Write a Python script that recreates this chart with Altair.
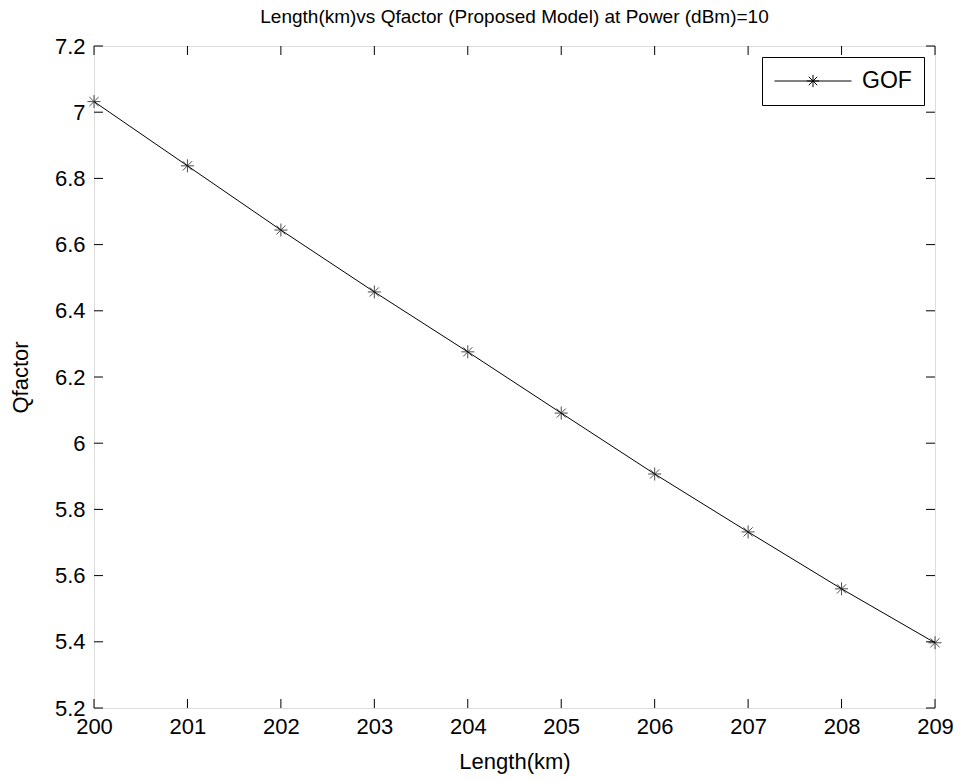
import altair as alt
import pandas as pd

length_km = [200, 201, 202, 203, 204, 205, 206, 207, 208, 209]
qfactor = [7.032, 6.838, 6.644, 6.457, 6.276, 6.091, 5.907, 5.732, 5.560, 5.397]
series_name = "GOF"
x_ticks = [200, 201, 202, 203, 204, 205, 206, 207, 208, 209]
y_ticks = [5.2, 5.4, 5.6, 5.8, 6.0, 6.2, 6.4, 6.6, 6.8, 7.0, 7.2]

FONT = "Liberation Sans"
W, H = 841, 662

df = pd.DataFrame({"x": length_km, "y": qfactor, "s": [series_name] * len(length_km)})
xt = pd.DataFrame({"x": x_ticks})
yt = pd.DataFrame({"y": y_ticks})

xscale = alt.Scale(domain=[200, 209], nice=False, zero=False)
yscale = alt.Scale(domain=[5.2, 7.2], nice=False, zero=False)

asterisk = "M-1,0L1,0M0,-1L0,1M-0.7,-0.7L0.7,0.7M-0.7,0.7L0.7,-0.7"
legend_sym = ("M-1,0L1,0M-0.16,0L0.16,0M0,-0.16L0,0.16"
              "M-0.11,-0.11L0.11,0.11M-0.11,0.11L0.11,-0.11")

xaxis = alt.Axis(values=x_ticks, format="d", title="Length(km)", domain=False, ticks=False,
                 grid=False, labelFont=FONT, labelFontSize=22, labelPadding=8,
                 labelColor="black", titleFont=FONT, titleFontSize=22, titleFontWeight="normal",
                 titleColor="black", titlePadding=14, labelFlush=False)
yaxis = alt.Axis(values=y_ticks, format="~g", title="Qfactor", domain=False, ticks=False,
                 grid=False, labelFont=FONT, labelFontSize=22, labelPadding=9,
                 labelColor="black", titleFont=FONT, titleFontSize=22, titleFontWeight="normal",
                 titleColor="black", titlePadding=22, labelFlush=False)

line = alt.Chart(df).mark_line(strokeWidth=1).encode(
    x=alt.X("x:Q", scale=xscale, axis=xaxis),
    y=alt.Y("y:Q", scale=yscale, axis=yaxis),
    color=alt.Color("s:N", scale=alt.Scale(range=["black"]),
                    legend=alt.Legend(title=None, orient="top-right", offset=11,
                                      symbolType=legend_sym, symbolSize=5929,
                                      symbolStrokeWidth=1, symbolStrokeColor="black",
                                      labelFont=FONT, labelFontSize=23, labelColor="black",
                                      labelOffset=10,
                                      strokeColor="black", fillColor="white",
                                      padding=12, clipHeight=24)),
)

points = alt.Chart(df).mark_point(shape=asterisk, size=170, filled=False, strokeWidth=1,
                                  color="black").encode(
    x=alt.X("x:Q", scale=xscale),
    y=alt.Y("y:Q", scale=yscale),
)

tick_b = alt.Chart(xt).mark_rule(color="black", strokeWidth=1).encode(
    x=alt.X("x:Q", scale=xscale), y=alt.value(H), y2=alt.value(H - 9))
tick_t = alt.Chart(xt).mark_rule(color="black", strokeWidth=1).encode(
    x=alt.X("x:Q", scale=xscale), y=alt.value(0), y2=alt.value(9))
tick_l = alt.Chart(yt).mark_rule(color="black", strokeWidth=1).encode(
    y=alt.Y("y:Q", scale=yscale), x=alt.value(0), x2=alt.value(9))
tick_r = alt.Chart(yt).mark_rule(color="black", strokeWidth=1).encode(
    y=alt.Y("y:Q", scale=yscale), x=alt.value(W), x2=alt.value(W - 9))

chart = alt.layer(tick_b, tick_t, tick_l, tick_r, line, points).properties(
    width=W, height=H,
    title=alt.TitleParams("Length(km)vs Qfactor (Proposed Model) at Power (dBm)=10",
                          font=FONT, fontSize=19, fontWeight="normal", color="black",
                          anchor="middle", offset=8),
    autosize=alt.AutoSizeParams(type="none"),
    padding={"left": 94, "top": 46, "right": 27, "bottom": 74},
).configure_view(stroke="black", strokeWidth=1.2).configure(background="white")

chart.save("out.html", embed_options={"renderer": "svg", "actions": False})
